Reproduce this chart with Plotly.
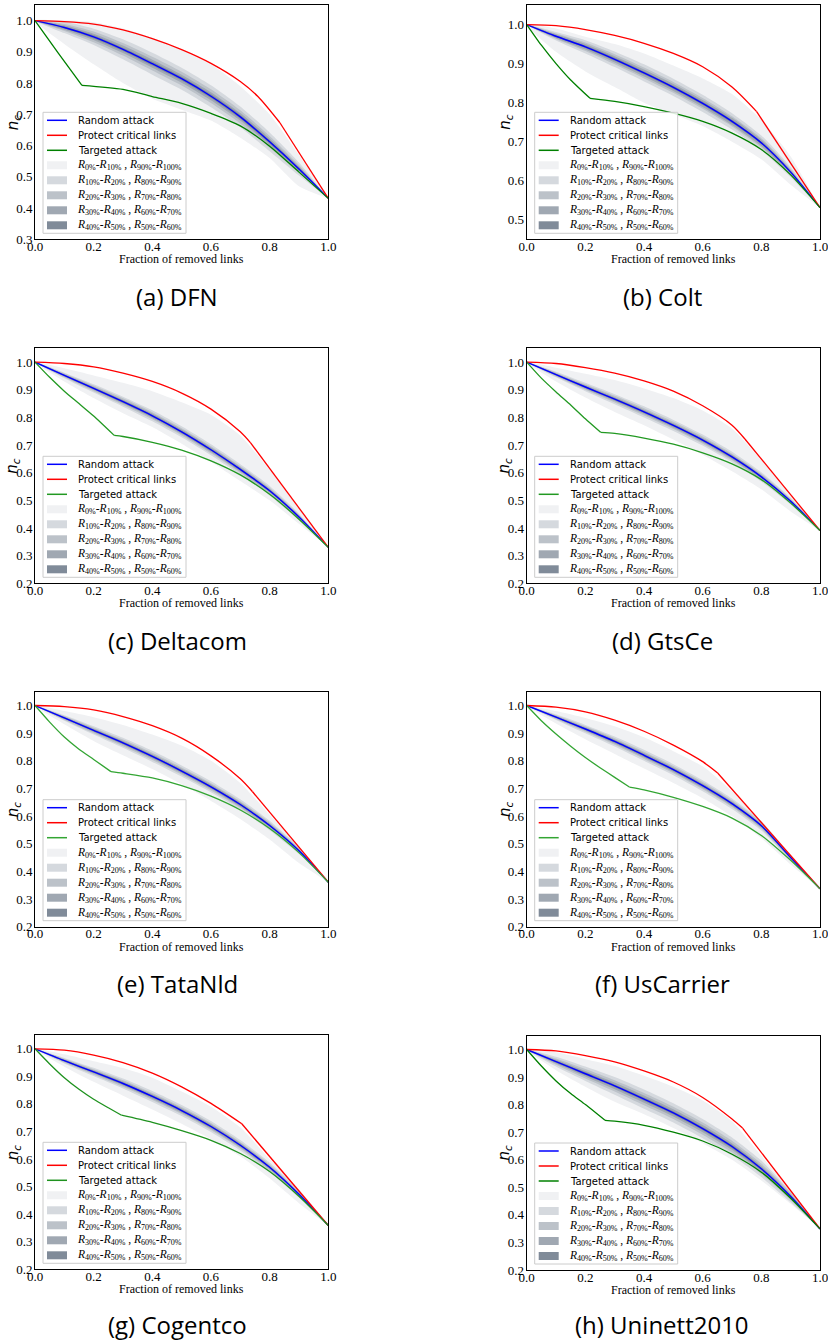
import plotly.graph_objects as go

W, H = 828, 1344

# ---------------- data ----------------
X_GRID = [0.0, 0.1, 0.2, 0.3, 0.4, 0.5, 0.6, 0.7, 0.8, 0.9, 1.0]
X_TICKS = [0.0, 0.2, 0.4, 0.6, 0.8, 1.0]
BAND_COLORS = ["#f0f1f3", "#d5d9de", "#bcc2c9", "#a0a8b2", "#808b99"]
LEGEND_LINES = ["Random attack", "Protect critical links", "Targeted attack"]
LEGEND_BANDS = [("0%", "10%", "90%", "100%"), ("10%", "20%", "80%", "90%"),
                ("20%", "30%", "70%", "80%"), ("30%", "40%", "60%", "70%"),
                ("40%", "50%", "50%", "60%")]

# (a) DFN
dfn_random = [1.0, 0.978, 0.948, 0.908, 0.862, 0.814, 0.758, 0.692, 0.612, 0.525, 0.431]
dfn_protect_x = [0.0, 0.1, 0.2, 0.3, 0.4, 0.5, 0.6, 0.7, 0.76, 0.835, 1.0]
dfn_protect = [1.0, 0.997, 0.989, 0.97, 0.942, 0.907, 0.863, 0.805, 0.757, 0.673, 0.431]
dfn_target_head_x = [0.0, 0.08, 0.16]
dfn_target_head = [1.0, 0.895, 0.793]
dfn_target_tail_x = [0.16, 0.3, 0.4, 0.5, 0.6, 0.7, 0.8, 0.9, 1.0]
dfn_target_tail = [0.793, 0.78, 0.757, 0.735, 0.703, 0.663, 0.598, 0.515, 0.431]
dfn_bands = [
    [1.0, 0.925, 0.86, 0.80, 0.75, 0.715, 0.68, 0.625, 0.56, 0.47, 0.431],
    [1.0, 0.960, 0.922, 0.876, 0.827, 0.779, 0.723, 0.659, 0.582, 0.504, 0.431],
    [1.0, 0.967, 0.931, 0.888, 0.840, 0.792, 0.736, 0.671, 0.593, 0.512, 0.431],
    [1.0, 0.971, 0.938, 0.896, 0.849, 0.801, 0.745, 0.680, 0.601, 0.517, 0.431],
    [1.0, 0.975, 0.943, 0.903, 0.856, 0.808, 0.752, 0.686, 0.607, 0.521, 0.431],
    [1.0, 0.981, 0.953, 0.913, 0.868, 0.820, 0.764, 0.698, 0.617, 0.529, 0.431],
    [1.0, 0.985, 0.958, 0.920, 0.875, 0.827, 0.771, 0.704, 0.623, 0.533, 0.431],
    [1.0, 0.989, 0.965, 0.928, 0.884, 0.836, 0.780, 0.713, 0.631, 0.538, 0.431],
    [1.0, 0.996, 0.974, 0.940, 0.897, 0.849, 0.793, 0.725, 0.642, 0.546, 0.431],
    [1.0, 1.0, 0.995, 0.975, 0.945, 0.905, 0.86, 0.79, 0.70, 0.57, 0.431],
]

# (b) Colt
colt_random = [1.0, 0.97, 0.943, 0.911, 0.876, 0.839, 0.798, 0.752, 0.697, 0.622, 0.531]
colt_protect_x = [0.0, 0.1, 0.2, 0.3, 0.4, 0.5, 0.6, 0.7, 0.784, 1.0]
colt_protect = [1.0, 0.997, 0.987, 0.972, 0.952, 0.926, 0.892, 0.84, 0.777, 0.531]
colt_target_head_x = [0.0, 0.05, 0.1, 0.15, 0.216]
colt_target_head = [1.0, 0.947, 0.9, 0.858, 0.811]
colt_target_tail_x = [0.216, 0.3, 0.4, 0.5, 0.6, 0.7, 0.8, 0.9, 1.0]
colt_target_tail = [0.811, 0.803, 0.79, 0.773, 0.752, 0.722, 0.68, 0.615, 0.531]
colt_bands = [
    [1.0, 0.93, 0.88, 0.84, 0.80, 0.77, 0.74, 0.70, 0.655, 0.59, 0.531],
    [1.0, 0.959, 0.926, 0.891, 0.854, 0.817, 0.776, 0.731, 0.678, 0.609, 0.531],
    [1.0, 0.963, 0.932, 0.898, 0.862, 0.825, 0.784, 0.739, 0.685, 0.614, 0.531],
    [1.0, 0.965, 0.936, 0.903, 0.867, 0.83, 0.789, 0.743, 0.689, 0.617, 0.531],
    [1.0, 0.968, 0.94, 0.907, 0.872, 0.835, 0.794, 0.748, 0.694, 0.62, 0.531],
    [1.0, 0.972, 0.946, 0.915, 0.88, 0.843, 0.802, 0.756, 0.70, 0.624, 0.531],
    [1.0, 0.975, 0.95, 0.919, 0.885, 0.848, 0.807, 0.761, 0.705, 0.627, 0.531],
    [1.0, 0.977, 0.954, 0.924, 0.89, 0.853, 0.812, 0.765, 0.709, 0.63, 0.531],
    [1.0, 0.981, 0.96, 0.931, 0.898, 0.861, 0.82, 0.773, 0.716, 0.635, 0.531],
    [1.0, 0.99, 0.969, 0.95, 0.926, 0.895, 0.862, 0.822, 0.756, 0.662, 0.531],
]

# (c) Deltacom
deltacom_random = [1.0, 0.952, 0.905, 0.857, 0.806, 0.748, 0.683, 0.612, 0.535, 0.44, 0.33]
deltacom_protect_x = [0.0, 0.1, 0.2, 0.3, 0.4, 0.5, 0.6, 0.7, 0.735, 1.0]
deltacom_protect = [1.0, 0.995, 0.983, 0.96, 0.93, 0.888, 0.83, 0.748, 0.708, 0.33]
deltacom_target_head_x = [0.0, 0.05, 0.1, 0.15, 0.2, 0.27]
deltacom_target_head = [1.0, 0.945, 0.895, 0.85, 0.805, 0.735]
deltacom_target_tail_x = [0.27, 0.3, 0.4, 0.5, 0.6, 0.7, 0.8, 0.9, 1.0]
deltacom_target_tail = [0.735, 0.731, 0.71, 0.682, 0.643, 0.592, 0.522, 0.432, 0.33]
deltacom_bands = [
    [1.0, 0.93, 0.87, 0.815, 0.765, 0.705, 0.64, 0.57, 0.50, 0.415, 0.33],
    [1.0, 0.942, 0.89, 0.839, 0.786, 0.728, 0.663, 0.593, 0.518, 0.428, 0.33],
    [1.0, 0.945, 0.895, 0.845, 0.793, 0.735, 0.67, 0.60, 0.524, 0.432, 0.33],
    [1.0, 0.948, 0.899, 0.85, 0.798, 0.74, 0.675, 0.604, 0.528, 0.435, 0.33],
    [1.0, 0.95, 0.902, 0.853, 0.802, 0.744, 0.679, 0.608, 0.532, 0.438, 0.33],
    [1.0, 0.954, 0.908, 0.861, 0.81, 0.752, 0.687, 0.616, 0.538, 0.442, 0.33],
    [1.0, 0.956, 0.911, 0.864, 0.814, 0.756, 0.691, 0.62, 0.542, 0.445, 0.33],
    [1.0, 0.959, 0.915, 0.869, 0.819, 0.761, 0.696, 0.624, 0.546, 0.448, 0.33],
    [1.0, 0.962, 0.92, 0.875, 0.826, 0.768, 0.703, 0.631, 0.552, 0.452, 0.33],
    [1.0, 0.978, 0.952, 0.925, 0.895, 0.855, 0.81, 0.735, 0.61, 0.47, 0.33],
]

# (d) GtsCe
gtsce_random = [1.0, 0.955, 0.91, 0.866, 0.82, 0.771, 0.718, 0.657, 0.585, 0.497, 0.391]
gtsce_protect_x = [0.0, 0.1, 0.2, 0.3, 0.4, 0.5, 0.6, 0.7, 0.744, 1.0]
gtsce_protect = [1.0, 0.995, 0.98, 0.96, 0.932, 0.895, 0.842, 0.772, 0.722, 0.391]
gtsce_target_head_x = [0.0, 0.05, 0.1, 0.15, 0.2, 0.252]
gtsce_target_head = [1.0, 0.942, 0.892, 0.845, 0.795, 0.746]
gtsce_target_tail_x = [0.252, 0.3, 0.4, 0.5, 0.6, 0.7, 0.8, 0.9, 1.0]
gtsce_target_tail = [0.746, 0.742, 0.725, 0.703, 0.672, 0.632, 0.575, 0.49, 0.391]
gtsce_bands = [
    [1.0, 0.93, 0.872, 0.82, 0.772, 0.72, 0.665, 0.605, 0.54, 0.46, 0.391],
    [1.0, 0.945, 0.895, 0.848, 0.80, 0.751, 0.698, 0.638, 0.568, 0.485, 0.391],
    [1.0, 0.948, 0.90, 0.854, 0.807, 0.758, 0.705, 0.645, 0.574, 0.489, 0.391],
    [1.0, 0.951, 0.904, 0.859, 0.812, 0.763, 0.71, 0.649, 0.578, 0.492, 0.391],
    [1.0, 0.953, 0.907, 0.862, 0.816, 0.767, 0.714, 0.653, 0.582, 0.495, 0.391],
    [1.0, 0.957, 0.913, 0.87, 0.824, 0.775, 0.722, 0.661, 0.588, 0.499, 0.391],
    [1.0, 0.959, 0.916, 0.873, 0.828, 0.779, 0.726, 0.665, 0.592, 0.502, 0.391],
    [1.0, 0.962, 0.92, 0.878, 0.833, 0.784, 0.731, 0.669, 0.596, 0.505, 0.391],
    [1.0, 0.965, 0.925, 0.884, 0.84, 0.791, 0.738, 0.676, 0.602, 0.509, 0.391],
    [1.0, 0.98, 0.958, 0.935, 0.905, 0.87, 0.825, 0.76, 0.645, 0.515, 0.391],
]

# (e) TataNld
tatanld_random = [1.0, 0.955, 0.91, 0.865, 0.816, 0.763, 0.706, 0.642, 0.566, 0.475, 0.361]
tatanld_protect_x = [0.0, 0.1, 0.2, 0.3, 0.4, 0.5, 0.6, 0.7, 0.741, 1.0]
tatanld_protect = [1.0, 0.996, 0.984, 0.96, 0.927, 0.882, 0.818, 0.735, 0.689, 0.361]
tatanld_target_head_x = [0.0, 0.05, 0.1, 0.15, 0.2, 0.259]
tatanld_target_head = [1.0, 0.94, 0.886, 0.842, 0.805, 0.761]
tatanld_target_tail_x = [0.259, 0.3, 0.4, 0.5, 0.6, 0.7, 0.8, 0.9, 1.0]
tatanld_target_tail = [0.761, 0.755, 0.738, 0.71, 0.672, 0.622, 0.555, 0.468, 0.361]
tatanld_bands = [
    [1.0, 0.932, 0.872, 0.82, 0.77, 0.715, 0.655, 0.59, 0.515, 0.43, 0.361],
    [1.0, 0.945, 0.895, 0.847, 0.796, 0.743, 0.686, 0.623, 0.549, 0.463, 0.361],
    [1.0, 0.948, 0.90, 0.853, 0.803, 0.75, 0.693, 0.63, 0.555, 0.467, 0.361],
    [1.0, 0.951, 0.904, 0.858, 0.808, 0.755, 0.698, 0.634, 0.559, 0.47, 0.361],
    [1.0, 0.953, 0.907, 0.861, 0.812, 0.759, 0.702, 0.638, 0.563, 0.473, 0.361],
    [1.0, 0.957, 0.913, 0.869, 0.82, 0.767, 0.71, 0.646, 0.569, 0.477, 0.361],
    [1.0, 0.959, 0.916, 0.872, 0.824, 0.771, 0.714, 0.65, 0.573, 0.48, 0.361],
    [1.0, 0.962, 0.92, 0.877, 0.829, 0.776, 0.719, 0.654, 0.577, 0.483, 0.361],
    [1.0, 0.965, 0.925, 0.883, 0.836, 0.783, 0.726, 0.661, 0.583, 0.487, 0.361],
    [1.0, 0.98, 0.958, 0.93, 0.895, 0.855, 0.80, 0.72, 0.605, 0.49, 0.361],
]

# (f) UsCarrier
uscarrier_random = [1.0, 0.958, 0.915, 0.87, 0.82, 0.768, 0.71, 0.645, 0.565, 0.45, 0.337]
uscarrier_protect_x = [0.0, 0.1, 0.2, 0.3, 0.4, 0.5, 0.6, 0.651, 1.0]
uscarrier_protect = [1.0, 0.994, 0.977, 0.947, 0.907, 0.857, 0.797, 0.756, 0.337]
uscarrier_target_head_x = [0.0, 0.05, 0.1, 0.15, 0.2, 0.25, 0.3, 0.35]
uscarrier_target_head = [1.0, 0.945, 0.897, 0.853, 0.812, 0.775, 0.74, 0.705]
uscarrier_target_tail_x = [0.35, 0.4, 0.5, 0.6, 0.7, 0.8, 0.9, 1.0]
uscarrier_target_tail = [0.705, 0.695, 0.668, 0.635, 0.593, 0.53, 0.44, 0.337]
uscarrier_bands = [
    [1.0, 0.935, 0.878, 0.825, 0.772, 0.72, 0.665, 0.60, 0.52, 0.425, 0.337],
    [1.0, 0.948, 0.90, 0.852, 0.80, 0.748, 0.69, 0.626, 0.548, 0.44, 0.337],
    [1.0, 0.951, 0.905, 0.858, 0.807, 0.755, 0.697, 0.633, 0.554, 0.443, 0.337],
    [1.0, 0.954, 0.909, 0.863, 0.812, 0.76, 0.702, 0.637, 0.558, 0.446, 0.337],
    [1.0, 0.956, 0.912, 0.866, 0.816, 0.764, 0.706, 0.641, 0.562, 0.448, 0.337],
    [1.0, 0.96, 0.918, 0.874, 0.824, 0.772, 0.714, 0.649, 0.568, 0.452, 0.337],
    [1.0, 0.962, 0.921, 0.877, 0.828, 0.776, 0.718, 0.653, 0.572, 0.454, 0.337],
    [1.0, 0.965, 0.925, 0.882, 0.833, 0.781, 0.723, 0.657, 0.576, 0.456, 0.337],
    [1.0, 0.968, 0.93, 0.888, 0.84, 0.788, 0.73, 0.664, 0.582, 0.458, 0.337],
    [1.0, 0.98, 0.955, 0.925, 0.885, 0.835, 0.78, 0.69, 0.575, 0.46, 0.337],
]

# (g) Cogentco
cogentco_random = [1.0, 0.957, 0.916, 0.874, 0.827, 0.776, 0.718, 0.65, 0.57, 0.472, 0.359]
cogentco_protect_x = [0.0, 0.1, 0.2, 0.3, 0.4, 0.5, 0.6, 0.705, 1.0]
cogentco_protect = [1.0, 0.995, 0.977, 0.95, 0.912, 0.862, 0.802, 0.728, 0.359]
cogentco_target_head_x = [0.0, 0.05, 0.1, 0.15, 0.2, 0.25, 0.295]
cogentco_target_head = [1.0, 0.945, 0.895, 0.853, 0.817, 0.786, 0.759]
cogentco_target_tail_x = [0.295, 0.4, 0.5, 0.6, 0.7, 0.8, 0.9, 1.0]
cogentco_target_tail = [0.759, 0.733, 0.703, 0.668, 0.62, 0.555, 0.465, 0.359]
cogentco_bands = [
    [1.0, 0.935, 0.88, 0.83, 0.78, 0.728, 0.672, 0.61, 0.53, 0.44, 0.359],
    [1.0, 0.947, 0.901, 0.856, 0.807, 0.756, 0.698, 0.631, 0.553, 0.46, 0.359],
    [1.0, 0.95, 0.906, 0.862, 0.814, 0.763, 0.705, 0.638, 0.559, 0.464, 0.359],
    [1.0, 0.953, 0.91, 0.867, 0.819, 0.768, 0.71, 0.642, 0.563, 0.467, 0.359],
    [1.0, 0.955, 0.913, 0.87, 0.823, 0.772, 0.714, 0.646, 0.567, 0.47, 0.359],
    [1.0, 0.959, 0.919, 0.878, 0.831, 0.78, 0.722, 0.654, 0.573, 0.474, 0.359],
    [1.0, 0.961, 0.922, 0.881, 0.835, 0.784, 0.726, 0.658, 0.577, 0.477, 0.359],
    [1.0, 0.964, 0.926, 0.886, 0.84, 0.789, 0.731, 0.662, 0.581, 0.48, 0.359],
    [1.0, 0.967, 0.931, 0.892, 0.847, 0.796, 0.738, 0.669, 0.587, 0.484, 0.359],
    [1.0, 0.98, 0.955, 0.93, 0.895, 0.845, 0.79, 0.715, 0.6, 0.49, 0.359],
]

# (h) Uninett2010
uninett_random = [1.0, 0.956, 0.912, 0.868, 0.82, 0.77, 0.713, 0.648, 0.567, 0.467, 0.349]
uninett_protect_x = [0.0, 0.1, 0.2, 0.3, 0.4, 0.5, 0.6, 0.7, 0.736, 1.0]
uninett_protect = [1.0, 0.995, 0.978, 0.955, 0.922, 0.882, 0.826, 0.748, 0.715, 0.349]
uninett_target_head_x = [0.0, 0.05, 0.1, 0.15, 0.2, 0.267]
uninett_target_head = [1.0, 0.94, 0.886, 0.84, 0.8, 0.743]
uninett_target_tail_x = [0.267, 0.3, 0.4, 0.5, 0.6, 0.7, 0.8, 0.9, 1.0]
uninett_target_tail = [0.743, 0.74, 0.725, 0.7, 0.668, 0.62, 0.555, 0.46, 0.349]
uninett_bands = [
    [1.0, 0.925, 0.865, 0.81, 0.765, 0.715, 0.66, 0.6, 0.525, 0.44, 0.349],
    [1.0, 0.938, 0.886, 0.836, 0.785, 0.735, 0.678, 0.615, 0.537, 0.446, 0.349],
    [1.0, 0.945, 0.895, 0.848, 0.798, 0.748, 0.691, 0.627, 0.548, 0.454, 0.349],
    [1.0, 0.949, 0.902, 0.856, 0.807, 0.757, 0.70, 0.636, 0.556, 0.459, 0.349],
    [1.0, 0.953, 0.907, 0.863, 0.814, 0.764, 0.707, 0.642, 0.562, 0.463, 0.349],
    [1.0, 0.959, 0.917, 0.873, 0.826, 0.776, 0.719, 0.654, 0.572, 0.471, 0.349],
    [1.0, 0.963, 0.922, 0.88, 0.833, 0.783, 0.726, 0.66, 0.578, 0.475, 0.349],
    [1.0, 0.967, 0.929, 0.888, 0.842, 0.792, 0.735, 0.669, 0.586, 0.48, 0.349],
    [1.0, 0.974, 0.938, 0.90, 0.855, 0.805, 0.748, 0.681, 0.597, 0.484, 0.349],
    [1.0, 0.99, 0.965, 0.94, 0.905, 0.865, 0.815, 0.74, 0.615, 0.487, 0.349],
]

captions = ["(a) DFN", "(b) Colt", "(c) Deltacom", "(d) GtsCe",
            "(e) TataNld", "(f) UsCarrier", "(g) Cogentco", "(h) Uninett2010"]
y_ranges = [[0.3, 1.05], [0.45, 1.05], [0.2, 1.05], [0.2, 1.05],
            [0.2, 1.05], [0.2, 1.05], [0.2, 1.05], [0.2, 1.05]]
y_ticks = [[0.3, 0.4, 0.5, 0.6, 0.7, 0.8, 0.9, 1.0],
           [0.5, 0.6, 0.7, 0.8, 0.9, 1.0]] + [[0.2, 0.3, 0.4, 0.5, 0.6, 0.7, 0.8, 0.9, 1.0]] * 6

panel_data = [
    (dfn_random, dfn_protect_x, dfn_protect, dfn_target_head_x, dfn_target_head, dfn_target_tail_x, dfn_target_tail, dfn_bands),
    (colt_random, colt_protect_x, colt_protect, colt_target_head_x, colt_target_head, colt_target_tail_x, colt_target_tail, colt_bands),
    (deltacom_random, deltacom_protect_x, deltacom_protect, deltacom_target_head_x, deltacom_target_head, deltacom_target_tail_x, deltacom_target_tail, deltacom_bands),
    (gtsce_random, gtsce_protect_x, gtsce_protect, gtsce_target_head_x, gtsce_target_head, gtsce_target_tail_x, gtsce_target_tail, gtsce_bands),
    (tatanld_random, tatanld_protect_x, tatanld_protect, tatanld_target_head_x, tatanld_target_head, tatanld_target_tail_x, tatanld_target_tail, tatanld_bands),
    (uscarrier_random, uscarrier_protect_x, uscarrier_protect, uscarrier_target_head_x, uscarrier_target_head, uscarrier_target_tail_x, uscarrier_target_tail, uscarrier_bands),
    (cogentco_random, cogentco_protect_x, cogentco_protect, cogentco_target_head_x, cogentco_target_head, cogentco_target_tail_x, cogentco_target_tail, cogentco_bands),
    (uninett_random, uninett_protect_x, uninett_protect, uninett_target_head_x, uninett_target_head, uninett_target_tail_x, uninett_target_tail, uninett_bands),
]

# ---------------- layout geometry (pixels) ----------------
panel_boxes = [  # left, top, right, bottom
    (35, 5, 328.3, 239.3), (526.7, 5, 820, 239.3),
    (35, 348.3, 328.3, 583.3), (526.7, 348.3, 820, 583.3),
    (35, 691.7, 328.3, 926.7), (526.7, 691.7, 820, 926.7),
    (35, 1035, 328.3, 1269.3), (526.7, 1035.7, 820, 1270),
]
caption_pos = [(177, 297), (662, 297), (177, 640), (662, 640),
               (177, 983), (662, 983), (177, 1324), (662, 1324)]
greens = ["#008000", "#008000", "#229922", "#229922", "#33a533", "#33a533", "#1f921f", "#008000"]
BLUE, RED = "#0000ff", "#ff0000"


def fx(p):
    return p / W


def fy(p):
    return 1 - p / H


SERIF = "Liberation Serif, Times New Roman, serif"
SANS = "DejaVu Sans, sans-serif"

fig = go.Figure()
shapes, annotations = [], []
layout_axes = {}

for i in range(8):
    rnd, px_, py_, thx, thy, ttx, tty, bands = panel_data[i]
    green = greens[i]
    sfx = "" if i == 0 else str(i + 1)
    xa, ya = "x" + sfx, "y" + sfx
    L, T, R, B = panel_boxes[i]

    # percentile bands (outer to inner, opaque)
    for k in range(5):
        lo, hi = bands[k], bands[9 - k]
        fig.add_trace(go.Scatter(
            x=X_GRID + X_GRID[::-1], y=lo + hi[::-1], mode="lines",
            fill="toself", fillcolor=BAND_COLORS[k],
            line=dict(width=0, color=BAND_COLORS[k], shape="spline", smoothing=0.6),
            hoverinfo="skip", showlegend=False, xaxis=xa, yaxis=ya))

    fig.add_trace(go.Scatter(x=X_GRID, y=rnd, mode="lines",
                             line=dict(color=BLUE, width=1.4, shape="spline", smoothing=0.8),
                             showlegend=False, xaxis=xa, yaxis=ya, name=LEGEND_LINES[0]))
    fig.add_trace(go.Scatter(x=px_[:-1], y=py_[:-1], mode="lines",
                             line=dict(color=RED, width=1.3, shape="spline", smoothing=0.8),
                             showlegend=False, xaxis=xa, yaxis=ya, name=LEGEND_LINES[1]))
    fig.add_trace(go.Scatter(x=px_[-2:], y=py_[-2:], mode="lines",
                             line=dict(color=RED, width=1.3),
                             showlegend=False, xaxis=xa, yaxis=ya, name=LEGEND_LINES[1]))
    fig.add_trace(go.Scatter(x=thx, y=thy, mode="lines",
                             line=dict(color=green, width=1.3, shape="spline", smoothing=0.6),
                             showlegend=False, xaxis=xa, yaxis=ya, name=LEGEND_LINES[2]))
    fig.add_trace(go.Scatter(x=ttx, y=tty, mode="lines",
                             line=dict(color=green, width=1.3, shape="spline", smoothing=0.8),
                             showlegend=False, xaxis=xa, yaxis=ya, name=LEGEND_LINES[2]))

    axis_common = dict(showline=True, mirror=True, linecolor="black", linewidth=1,
                       showgrid=False, zeroline=False, ticks="", automargin=False,
                       ticklabeloverflow="allow",
                       tickfont=dict(family=SERIF, size=13, color="black"),
                       fixedrange=True)
    layout_axes["xaxis" + sfx] = dict(axis_common, domain=[fx(L), fx(R)], range=[0, 1],
                                      tickvals=X_TICKS, ticktext=["%.1f" % v for v in X_TICKS],
                                      anchor=ya, ticklabelstandoff=-5)
    layout_axes["yaxis" + sfx] = dict(axis_common, domain=[fy(B), fy(T)], range=y_ranges[i],
                                      tickvals=y_ticks[i], ticktext=["%.1f" % v for v in y_ticks[i]],
                                      anchor=xa, ticklabelstandoff=-1)

    annotations.append(dict(text="Fraction of removed links", xref="paper", yref="paper",
                            x=fx((L + R) / 2), y=fy(B + 20), xanchor="center", yanchor="middle",
                            showarrow=False, font=dict(family=SERIF, size=12, color="black")))
    annotations.append(dict(text="<i>n<sub>c</sub></i>", xref="paper", yref="paper",
                            x=fx(L - 22), y=fy((T + B) / 2), xanchor="center", yanchor="middle",
                            textangle=-90, showarrow=False,
                            font=dict(family=SANS, size=15, color="black")))
    cx, cy = caption_pos[i]
    annotations.append(dict(text=captions[i], xref="paper", yref="paper", x=fx(cx), y=fy(cy),
                            xanchor="center", yanchor="middle", showarrow=False,
                            font=dict(family="Open Sans, sans-serif", size=24, color="black")))

    # legend box (lower left of axes)
    bx0, bx1, by0, by1 = L + 8, L + 151, B - 127, B - 6
    shapes.append(dict(type="rect", xref="paper", yref="paper",
                       x0=fx(bx0), x1=fx(bx1), y0=fy(by1), y1=fy(by0),
                       line=dict(color="#cccccc", width=1), fillcolor="rgba(255,255,255,0.85)",
                       layer="above"))
    row_y = [by0 + 8 + 15 * r for r in range(8)]
    for r, (lab, col) in enumerate(zip(LEGEND_LINES, [BLUE, RED, green])):
        shapes.append(dict(type="line", xref="paper", yref="paper",
                           x0=fx(L + 12), x1=fx(L + 32), y0=fy(row_y[r]), y1=fy(row_y[r]),
                           line=dict(color=col, width=1.5), layer="above"))
        annotations.append(dict(text=lab, xref="paper", yref="paper", x=fx(L + 41), y=fy(row_y[r]),
                                xanchor="left", yanchor="middle", showarrow=False,
                                font=dict(family=SANS, size=10, color="black")))
    for k, (a, b, c, d) in enumerate(LEGEND_BANDS):
        yy = row_y[3 + k]
        shapes.append(dict(type="rect", xref="paper", yref="paper",
                           x0=fx(L + 12), x1=fx(L + 32), y0=fy(yy + 4), y1=fy(yy - 4),
                           line=dict(width=0), fillcolor=BAND_COLORS[k], layer="above"))
        txt = ("<i>R</i><sub>%s</sub>-<i>R</i><sub>%s</sub> , <i>R</i><sub>%s</sub>-<i>R</i><sub>%s</sub>"
               % (a, b, c, d))
        annotations.append(dict(text=txt, xref="paper", yref="paper", x=fx(L + 40), y=fy(yy),
                                xanchor="left", yanchor="middle", showarrow=False,
                                font=dict(family=SERIF, size=11.5, color="black")))

fig.update_layout(width=W, height=H, margin=dict(l=0, r=0, t=0, b=0, autoexpand=False),
                  paper_bgcolor="white", plot_bgcolor="white", showlegend=False,
                  shapes=shapes, annotations=annotations, **layout_axes)

fig.write_html("out.html", config={"displayModeBar": False},
               post_script="document.body.style.margin='0px';document.body.style.overflow='hidden';")
